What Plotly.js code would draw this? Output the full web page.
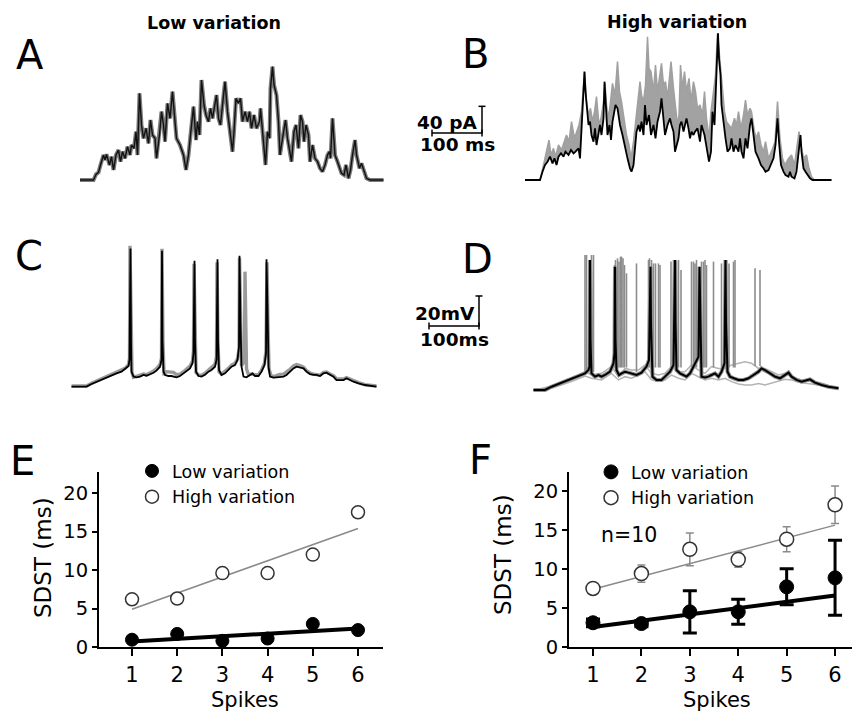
<!DOCTYPE html>
<html>
<head>
<meta charset="utf-8">
<script src="https://cdn.plot.ly/plotly-3.0.1.min.js"></script>
<style>html,body{margin:0;padding:0;background:#fff;}#chart{width:854px;height:712px;}</style>
</head>
<body>
<div id="chart"></div>
<script>
// ---------------- DATA ----------------
// Panel A: injected current, low variation (time ms, current pA)
const currentLow = [[0,0],[27,0],[32,8.5],[37,11.5],[41,22.5],[47,37.5],[50,30],[53,38.5],[59,22.5],[63,35],[67,15],[72,37.5],[77,45],[81,27.5],[85,42.5],[90,32.5],[95,50],[100,37.5],[103,52.5],[108,47.5],[112,72.5],[115,37.5],[119,130],[123,82.5],[127,62.5],[132,77.5],[137,55],[141,90],[145,67.5],[150,62.5],[153,32.5],[159,67.5],[163,102.5],[167,82.5],[170,57.5],[175,115],[180,92.5],[185,132.5],[190,87.5],[193,62.5],[200,52.5],[207,37.5],[212,15],[217,37.5],[221,67.5],[227,110],[232,60],[235,87.5],[239,67.5],[243,150],[248,112.5],[252,97.5],[257,87.5],[261,107.5],[265,92.5],[270,112.5],[273,127.5],[277,92.5],[281,82.5],[285,112.5],[290,147.5],[295,102.5],[300,72.5],[305,42.5],[308,72.5],[312,122.5],[317,115],[321,122.5],[325,87.5],[330,102.5],[335,87.5],[339,102.5],[343,77.5],[348,97.5],[353,77.5],[359,87.5],[361,107.5],[365,72.5],[371,22.5],[375,72.5],[379,62.5],[381,137.5],[385,170],[388,142.5],[393,127.5],[397,87.5],[400,37.5],[403,52.5],[407,72.5],[411,90],[415,62.5],[419,42.5],[423,27.5],[428,72.5],[432,82.5],[437,47.5],[441,97.5],[445,87.5],[448,57.5],[452,82.5],[457,67.5],[460,27.5],[465,52.5],[470,32.5],[475,27.5],[480,17.5],[485,12.5],[490,22.5],[495,37.5],[499,42.5],[501,32.5],[505,92.5],[510,37.5],[515,27.5],[519,17.5],[523,10],[528,7.5],[532,22.5],[537,2.5],[541,15],[545,37.5],[550,60],[553,37.5],[559,17.5],[563,25],[568,12.5],[573,2.5],[580,0],[607,0]];

// Panel B: injected current, high variation - example trial (black)
const currentHighExample = [[0,0],[30,0],[35,12.5],[40,22.5],[45,27.5],[50,35],[55,25],[59,32.5],[63,22.5],[67,35],[72,40],[77,35],[81,42.5],[87,37.5],[92,45],[97,40],[101,42.5],[107,47.5],[110,32.5],[113,72.5],[117,122.5],[119,162.5],[121,132.5],[124,102.5],[127,82.5],[130,87.5],[133,67.5],[137,57.5],[140,77.5],[143,52.5],[147,67.5],[150,82.5],[153,67.5],[157,92.5],[159,147.5],[161,122.5],[165,67.5],[169,82.5],[172,60],[175,87.5],[179,102.5],[181,112.5],[185,107.5],[190,82.5],[195,67.5],[200,47.5],[205,32.5],[210,17.5],[213,12.5],[217,22.5],[220,47.5],[223,72.5],[227,82.5],[230,72.5],[233,87.5],[237,67.5],[240,112.5],[243,82.5],[248,97.5],[252,67.5],[257,82.5],[261,62.5],[265,87.5],[270,102.5],[273,122.5],[277,82.5],[280,67.5],[285,82.5],[290,92.5],[293,82.5],[297,72.5],[300,42.5],[303,52.5],[307,62.5],[310,82.5],[313,87.5],[317,72.5],[320,82.5],[323,92.5],[327,77.5],[330,62.5],[333,72.5],[337,67.5],[340,72.5],[345,77.5],[350,57.5],[353,82.5],[359,67.5],[363,47.5],[368,27.5],[372,42.5],[375,102.5],[379,82.5],[381,132.5],[384,192.5],[386,220],[388,182.5],[391,157.5],[393,112.5],[397,82.5],[401,62.5],[405,42.5],[410,47.5],[413,62.5],[417,42.5],[421,52.5],[427,42.5],[430,62.5],[433,42.5],[437,32.5],[441,62.5],[445,47.5],[450,82.5],[453,92.5],[457,62.5],[461,42.5],[467,32.5],[472,22.5],[477,17.5],[481,12.5],[487,15],[492,22.5],[497,32.5],[501,52.5],[505,92.5],[508,57.5],[512,22.5],[517,12.5],[521,7.5],[527,5],[530,12.5],[533,5],[539,2.5],[543,12.5],[547,42.5],[551,67.5],[553,42.5],[557,17.5],[561,12.5],[565,7.5],[570,2.5],[575,0],[613,0]];

// Panel B: upper envelope of the other trials (grey)
const currentHighOthers = [[0,0],[30,0],[37,22.5],[43,42.5],[48,60],[52,37.5],[57,47.5],[61,35],[67,52.5],[73,45],[79,57.5],[83,67.5],[88,57.5],[93,87.5],[99,62.5],[103,72.5],[108,82.5],[113,102.5],[119,162.5],[123,117.5],[127,97.5],[131,107.5],[135,87.5],[139,102.5],[143,125],[148,82.5],[152,92.5],[157,117.5],[160,145],[163,112.5],[167,92.5],[171,117.5],[175,145],[180,127.5],[185,177.5],[189,132.5],[193,117.5],[199,87.5],[203,67.5],[208,52.5],[212,32.5],[217,57.5],[221,82.5],[225,107.5],[230,147.5],[233,127.5],[237,117.5],[241,142.5],[245,215],[248,167.5],[252,162.5],[257,132.5],[261,172.5],[265,132.5],[270,157.5],[273,175],[277,142.5],[281,147.5],[285,122.5],[289,157.5],[292,177.5],[297,137.5],[301,112.5],[305,82.5],[308,97.5],[311,172.5],[315,137.5],[319,162.5],[323,132.5],[328,152.5],[332,117.5],[337,147.5],[341,132.5],[345,107.5],[350,112.5],[355,97.5],[359,132.5],[363,92.5],[368,62.5],[372,102.5],[377,132.5],[381,157.5],[385,220],[389,182.5],[395,132.5],[399,102.5],[403,87.5],[408,82.5],[413,77.5],[419,92.5],[423,82.5],[427,102.5],[432,77.5],[437,97.5],[441,120],[445,97.5],[450,107.5],[453,102.5],[459,72.5],[463,62.5],[467,72.5],[472,52.5],[477,42.5],[481,57.5],[487,32.5],[493,42.5],[500,57.5],[505,117.5],[510,62.5],[515,32.5],[520,22.5],[527,32.5],[533,37.5],[539,22.5],[543,42.5],[548,72.5],[552,52.5],[557,32.5],[563,37.5],[568,17.5],[573,5],[579,0],[613,0]];

// Panel C: membrane potential, low variation (time ms, depolarisation mV)
const voltageLowExample = [[13,0],[43,0],[53,1.8],[63,3.3],[73,4.9],[83,6.2],[93,7.8],[103,8.9],[113,10],[120,11.6],[127,13.8],[129,17.8],[131,92.2],[132,31.1],[133,10],[137,6.7],[143,6.2],[150,6.7],[157,7.8],[163,7.3],[170,8.2],[177,9.3],[183,10.7],[190,13.3],[193,17.8],[194,90.7],[195,31.1],[197,10],[200,7.8],[207,7.1],[213,7.1],[223,6.2],[230,7.1],[237,8.9],[243,10.7],[250,12.2],[255,15.6],[257,22.2],[259,84],[260,31.1],[262,10],[267,7.1],[273,6.7],[280,8],[287,10],[293,11.1],[300,13.3],[303,17.8],[305,85],[306,31.1],[308,11.1],[313,7.8],[320,8.9],[327,11.1],[333,13.3],[340,14.4],[345,17.8],[348,26.7],[349,87.3],[351,42.2],[353,13.3],[357,6.7],[363,6.2],[370,7.8],[375,8.9],[380,7.1],[387,7.1],[393,10],[399,14.4],[402,22.2],[403,84.9],[405,53.3],[407,13.3],[410,6.7],[417,6],[423,6.2],[430,6.7],[437,6.7],[443,7.8],[450,10],[457,12.2],[463,13.3],[470,12.7],[477,12.2],[483,10],[490,8.4],[497,7.8],[503,7.8],[510,7.1],[517,8.9],[523,9.3],[530,7.8],[537,6.7],[543,4.4],[550,4.4],[557,4.4],[563,5.6],[570,4.4],[577,3.3],[587,2.2],[600,1.1],[623,0]];
const voltageLowOthers = [[13,0.4],[43,0.4],[53,2.2],[63,3.6],[73,5.3],[83,6.7],[93,8.2],[103,9.3],[113,10.7],[120,12.2],[127,14.7],[129,18.9],[130,94],[132,31],[134,9.5],[137,6.2],[143,6.7],[150,7.3],[157,8.4],[163,8],[170,9.1],[177,10.4],[183,12],[190,14.7],[193,19],[194,92],[196,28],[198,9],[203,10],[210,10],[217,9.5],[223,8],[230,8.4],[237,10],[243,12],[250,13.8],[255,17],[257,24],[258,82],[260,30],[262,9.5],[267,7.8],[273,7.5],[280,9],[287,11],[293,12.5],[300,15],[303,20],[304,83],[306,30],[308,10],[313,8.4],[320,10],[327,12.2],[333,14.4],[340,15.6],[345,18.5],[348,25],[349,86],[351,40],[353,14],[357,16],[359,22],[360,76.7],[361,35],[363,12],[367,8],[373,8.4],[380,8],[387,8],[393,11],[399,15.6],[402,24],[404,83],[406,40],[408,12],[412,7.3],[417,6.7],[423,7.3],[430,8.2],[437,8.4],[443,9.6],[450,11.6],[457,13.8],[463,14.7],[470,14],[477,13],[483,10.7],[490,9.1],[497,8.4],[503,8.2],[510,7.6],[517,9.6],[523,9.8],[530,8.4],[537,7.3],[543,5.3],[550,5.1],[557,5.1],[563,6],[570,4.9],[577,3.8],[587,2.7],[600,1.3],[623,0.4]];

// Panel D: membrane potential, high variation
const voltageHighExample = [[17,0],[40,0],[53,2.2],[67,4],[80,5.6],[93,7.1],[107,8.9],[120,11.1],[127,13.3],[129,15.6],[130,86.7],[131,33.3],[133,11.1],[140,8.9],[147,10],[153,8.9],[160,10],[170,12.2],[177,17.8],[179,24.4],[180,82.2],[181,33.3],[183,13.3],[188,10],[193,11.1],[200,12.2],[207,11.6],[213,11.1],[223,10],[233,11.6],[243,15.6],[248,20],[251,82.2],[252,44.4],[255,8.9],[263,6.7],[273,6.7],[280,8.9],[290,12.2],[297,16.7],[300,86.7],[301,44.4],[303,13.3],[310,11.1],[317,10],[323,8.9],[330,11.1],[337,15.6],[343,18.9],[347,22.2],[349,82.2],[351,33.3],[353,8.9],[360,8.4],[367,8.9],[373,10],[380,11.1],[387,8.9],[393,12.2],[399,17.8],[401,86.7],[402,44.4],[405,12.2],[410,8.9],[417,7.8],[427,6.7],[437,6.7],[447,7.8],[457,10],[467,12.2],[473,14.4],[480,13.3],[490,11.1],[500,8.9],[510,7.8],[520,10],[527,11.6],[533,8.9],[543,6.7],[553,5.6],[563,6.7],[570,7.1],[580,4.9],[593,3.3],[607,2.2],[627,1.1]];
const voltageHighTrialUp = [[17,-0.4],[53,2.7],[93,7.8],[120,12.2],[133,10],[153,11.1],[173,15.6],[187,8.9],[200,14.4],[213,13.3],[227,13.3],[240,16.7],[253,11.1],[267,10],[280,11.1],[293,15.6],[307,12.2],[320,12.2],[333,16.7],[347,13.3],[360,11.1],[373,15.6],[387,14.4],[400,14.4],[413,16.7],[427,17.8],[440,18.9],[453,17.8],[467,14.4],[480,14.4],[493,12.2],[507,10],[520,11.1],[533,8.9],[553,6.7],[573,5.6],[600,3.3],[627,1.1]];
const voltageHighTrialDown = [[17,0.4],[53,1.1],[93,5.6],[120,9.3],[133,7.8],[153,6.7],[173,11.1],[187,6.7],[200,8.9],[213,7.8],[227,10],[240,12.2],[253,6.7],[267,5.6],[280,6.7],[293,10],[307,7.8],[320,6.7],[333,11.1],[347,8.9],[360,6.7],[373,7.8],[387,6.7],[400,7.8],[413,5.6],[427,4],[440,3.3],[453,3.3],[467,4.4],[480,3.3],[493,4.4],[507,5.6],[520,7.1],[533,6.7],[553,4.9],[573,4],[600,2.7],[627,0.4]];
// spikes of the other trials in D (time ms, spike onset mV, spike peak mV)
const otherSpikeTimes = [120,123,133,137,179,181,185,188,191,193,196,199,203,223,247,249,253,257,261,267,270,292,297,303,307,312,333,337,340,343,353,357,360,363,377,393,403,408,417,420,460,470];
const otherSpikeOnset = [12,12,12,12,15,15,15,15,15,15,15,15,15,12,15,15,15,15,15,15,15,15,15,15,15,15,15,15,15,15,15,15,15,15,15,15,15,15,15,15,16,16];
const otherSpikePeak  = [90,90,90,90,83.3,86.7,87.8,85.6,88.9,88.9,87.8,83.3,77.8,84.4,86.7,87.8,86.7,84.4,84.4,84.4,83.3,85.6,86.7,85.6,86.7,80,85.6,85.6,84.4,86.7,85.6,85.6,86.7,83.3,85.6,84.4,86.7,84.4,85.6,86.7,81.1,80];

// Scale bars
const scaleCurrentPA = 40, scaleTimeMs = 100, scaleVoltageMV = 20;

// Panels E and F: SDST (ms) per spike number
const spikeNumbers = [1,2,3,4,5,6];
const sdstLowE  = [0.95,1.7,0.8,1.1,3.0,2.2];
const sdstHighE = [6.2,6.3,9.6,9.6,12.0,17.5];
const sdstLowF  = [3.1,3.0,4.5,4.5,7.7,8.85];
const sdstHighF = [7.5,9.4,12.5,11.2,13.8,18.2];
const semLowF   = [0.5,0.4,2.7,1.6,2.3,4.8];
const semHighF  = [0.6,1.1,2.1,1.0,1.6,2.4];
const fitX      = [1,6];
const fitLowE   = [0.73,2.4];
const fitHighE  = [4.9,15.4];
const fitLowF   = [2.56,6.6];
const fitHighF  = [7.4,15.6];

// ---------------- LAYOUT HELPERS ----------------
const W = 854, H = 712;
const fx = p => p / W;
const fy = p => 1 - p / H;
const FONT = 'DejaVu Sans, Arial, sans-serif';
const xs = arr => arr.map(d => d[0]);
const ys = arr => arr.map(d => d[1]);

const traces = [];
// A
traces.push({x: xs(currentLow), y: ys(currentLow), xaxis:'x', yaxis:'y', mode:'lines', line:{color:'#7c7c7c', width:4}, showlegend:false, hoverinfo:'skip'});
traces.push({x: xs(currentLow), y: ys(currentLow), xaxis:'x', yaxis:'y', mode:'lines', line:{color:'#111', width:1.4}, showlegend:false, hoverinfo:'skip'});
// B
traces.push({x: xs(currentHighExample), y: ys(currentHighExample), xaxis:'x2', yaxis:'y2', mode:'lines', line:{color:'rgba(0,0,0,0)', width:0}, showlegend:false, hoverinfo:'skip'});
traces.push({x: xs(currentHighOthers), y: ys(currentHighOthers), xaxis:'x2', yaxis:'y2', mode:'lines', fill:'tonexty', fillcolor:'#a2a2a2', line:{color:'#a0a0a0', width:1.5}, showlegend:false, hoverinfo:'skip'});
traces.push({x: xs(currentHighExample), y: ys(currentHighExample), xaxis:'x2', yaxis:'y2', mode:'lines', line:{color:'#000', width:1.8}, showlegend:false, hoverinfo:'skip'});
// B scale bar
const sbT0 = -186, sbP0 = 70.5;
traces.push({x:[sbT0, sbT0+scaleTimeMs, sbT0+scaleTimeMs], y:[sbP0, sbP0, sbP0+scaleCurrentPA], xaxis:'x2', yaxis:'y2', mode:'lines+markers',
  line:{color:'#000', width:1.5}, marker:{symbol:['line-ns','line-ns','line-ew'], size:5, line:{color:'#000', width:1.5}}, showlegend:false, hoverinfo:'skip', cliponaxis:false});
// C
traces.push({x: xs(voltageLowOthers), y: ys(voltageLowOthers), xaxis:'x3', yaxis:'y3', mode:'lines', line:{color:'#9a9a9a', width:3.4}, showlegend:false, hoverinfo:'skip'});
traces.push({x: xs(voltageLowExample), y: ys(voltageLowExample), xaxis:'x3', yaxis:'y3', mode:'lines', line:{color:'#000', width:1.8}, showlegend:false, hoverinfo:'skip'});
// D
traces.push({x: xs(voltageHighTrialUp), y: ys(voltageHighTrialUp), xaxis:'x4', yaxis:'y4', mode:'lines', line:{color:'#b4b4b4', width:1.5}, showlegend:false, hoverinfo:'skip'});
traces.push({x: xs(voltageHighTrialDown), y: ys(voltageHighTrialDown), xaxis:'x4', yaxis:'y4', mode:'lines', line:{color:'#b4b4b4', width:1.5}, showlegend:false, hoverinfo:'skip'});
traces.push({x: xs(voltageHighExample), y: ys(voltageHighExample), xaxis:'x4', yaxis:'y4', mode:'lines', line:{color:'#8e8e8e', width:4}, showlegend:false, hoverinfo:'skip'});
const spX = [], spY = [];
otherSpikeTimes.forEach((t, i) => { spX.push(t, t, null); spY.push(otherSpikeOnset[i], otherSpikePeak[i], null); });
traces.push({x: spX, y: spY, xaxis:'x4', yaxis:'y4', mode:'lines', line:{color:'#8c8c8c', width:1.6}, showlegend:false, hoverinfo:'skip'});
traces.push({x: xs(voltageHighExample), y: ys(voltageHighExample), xaxis:'x4', yaxis:'y4', mode:'lines', line:{color:'#000', width:2}, showlegend:false, hoverinfo:'skip'});
// D scale bar
const sdT0 = -192, sdV0 = 42.67;
traces.push({x:[sdT0, sdT0+scaleTimeMs, sdT0+scaleTimeMs], y:[sdV0, sdV0, sdV0+scaleVoltageMV], xaxis:'x4', yaxis:'y4', mode:'lines+markers',
  line:{color:'#000', width:1.5}, marker:{symbol:['line-ns','line-ns','line-ew'], size:5, line:{color:'#000', width:1.5}}, showlegend:false, hoverinfo:'skip', cliponaxis:false});

// E
traces.push({x: fitX, y: fitHighE, xaxis:'x5', yaxis:'y5', mode:'lines', line:{color:'#8a8a8a', width:1.5}, showlegend:false, hoverinfo:'skip'});
traces.push({x: fitX, y: fitLowE, xaxis:'x5', yaxis:'y5', mode:'lines', line:{color:'#000', width:4}, showlegend:false, hoverinfo:'skip'});
traces.push({x: spikeNumbers, y: sdstLowE, xaxis:'x5', yaxis:'y5', mode:'markers', name:'Low variation', legend:'legend',
  marker:{symbol:'circle', size:13, color:'#000', line:{color:'#000', width:1}}, cliponaxis:false});
traces.push({x: spikeNumbers, y: sdstHighE, xaxis:'x5', yaxis:'y5', mode:'markers', name:'High variation', legend:'legend',
  marker:{symbol:'circle', size:13, color:'#fff', line:{color:'#333', width:1.5}}, cliponaxis:false});
// F
traces.push({x: fitX, y: fitHighF, xaxis:'x6', yaxis:'y6', mode:'lines', line:{color:'#8a8a8a', width:1.5}, showlegend:false, hoverinfo:'skip'});
traces.push({x: fitX, y: fitLowF, xaxis:'x6', yaxis:'y6', mode:'lines', line:{color:'#000', width:4}, showlegend:false, hoverinfo:'skip'});
traces.push({x: spikeNumbers, y: sdstLowF, xaxis:'x6', yaxis:'y6', mode:'markers', name:'Low variation', legend:'legend2',
  error_y:{type:'data', array:semLowF, color:'#000', thickness:3, width:7},
  marker:{symbol:'circle', size:14, color:'#000', line:{color:'#000', width:1}}, cliponaxis:false});
traces.push({x: spikeNumbers, y: sdstHighF, xaxis:'x6', yaxis:'y6', mode:'markers', name:'High variation', legend:'legend2',
  error_y:{type:'data', array:semHighF, color:'#8a8a8a', thickness:1.5, width:4},
  marker:{symbol:'circle', size:14, color:'#fff', line:{color:'#333', width:1.5}}, cliponaxis:false});

const hidden = {visible:false, fixedrange:true};
const dataAxis = (dom, rng, tickSize) => ({domain: dom, range: rng, showgrid:false, zeroline:false, showline:true, linecolor:'#000', linewidth:2,
  ticks:'outside', ticklen:6, tickwidth:2, tickcolor:'#000', tickfont:{family:FONT, size:tickSize, color:'#000'}, fixedrange:true});

const ann = (text, px, py, size, extra) => Object.assign({text, x: fx(px), y: fy(py), xref:'paper', yref:'paper', showarrow:false,
  xanchor:'center', yanchor:'middle', font:{family:FONT, size, color:'#000'}}, extra || {});

const layout = {
  width: W, height: H, margin:{l:0, r:0, t:0, b:0}, paper_bgcolor:'#fff', plot_bgcolor:'rgba(0,0,0,0)',
  font:{family:FONT, color:'#000'},
  xaxis: Object.assign({domain:[fx(80), fx(390)], range:[0,620], anchor:'y'}, hidden),
  yaxis: Object.assign({domain:[fy(190), fy(50)], range:[-15,195], anchor:'x'}, hidden),
  xaxis2: Object.assign({domain:[fx(425), fx(845)], range:[-200,640], anchor:'y2'}, hidden),
  yaxis2: Object.assign({domain:[fy(190), fy(25)], range:[-15,232.5], anchor:'x2'}, hidden),
  xaxis3: Object.assign({domain:[fx(65), fx(385)], range:[0,640], anchor:'y3'}, hidden),
  yaxis3: Object.assign({domain:[fy(395), fy(240)], range:[-5.56,97.8], anchor:'x3'}, hidden),
  xaxis4: Object.assign({domain:[fx(420), fx(845)], range:[-210,640], anchor:'y4'}, hidden),
  yaxis4: Object.assign({domain:[fy(400), fy(240)], range:[-6.67,100], anchor:'x4'}, hidden),
  xaxis5: Object.assign(dataAxis([fx(99), fx(383)], [0.27, 6.553], 21), {anchor:'y5', tickvals: spikeNumbers, ticklen:7, ticklabelstandoff:1}),
  yaxis5: Object.assign(dataAxis([fy(647), fy(472)], [0, 22.73], 19.5), {anchor:'x5', tickvals:[0,5,10,15,20], ticklen:5}),
  xaxis6: Object.assign(dataAxis([fx(569), fx(852)], [0.504, 6.35], 21), {anchor:'y6', tickvals: spikeNumbers, ticklen:7, ticklabelstandoff:1}),
  yaxis6: Object.assign(dataAxis([fy(647), fy(472)], [0, 22.4], 19.5), {anchor:'x6', tickvals:[0,5,10,15,20], ticklen:5}),
  legend: {x: fx(132), y: fy(453), xanchor:'left', yanchor:'top', traceorder:'normal', bgcolor:'rgba(0,0,0,0)', font:{family:FONT, size:17.5, color:'#000'}, tracegroupgap:0, itemclick:false},
  legend2: {x: fx(591), y: fy(454), xanchor:'left', yanchor:'top', traceorder:'normal', bgcolor:'rgba(0,0,0,0)', font:{family:FONT, size:17.5, color:'#000'}, tracegroupgap:0, itemclick:false},
  annotations: [
    ann('<b>Low variation</b>', 214, 23, 17.5),
    ann('<b>High variation</b>', 677, 22, 17.5),
    ann('A', 30, 55, 40), ann('B', 476, 54, 40), ann('C', 29, 256, 40), ann('D', 478, 259, 40), ann('E', 22, 461, 40), ann('F', 481, 460, 40),
    ann('<b>40 pA</b>', 447, 123, 18.5), ann('<b>100 ms</b>', 457, 145, 18.5),
    ann('<b>20mV</b>', 445, 313, 18.5), ann('<b>100ms</b>', 454, 339, 18.5),
    ann('n=10', 629, 535, 20.5),
    ann('SDST (ms)', 43, 558, 23, {textangle:-90}),
    ann('SDST (ms)', 503, 555, 23, {textangle:-90}),
    ann('Spikes', 245, 700, 21, {borderpad:0}), ann('Spikes', 717, 700, 21, {borderpad:0})
  ]
};

Plotly.newPlot('chart', traces, layout, {staticPlot:true, displayModeBar:false});
</script>
</body>
</html>
